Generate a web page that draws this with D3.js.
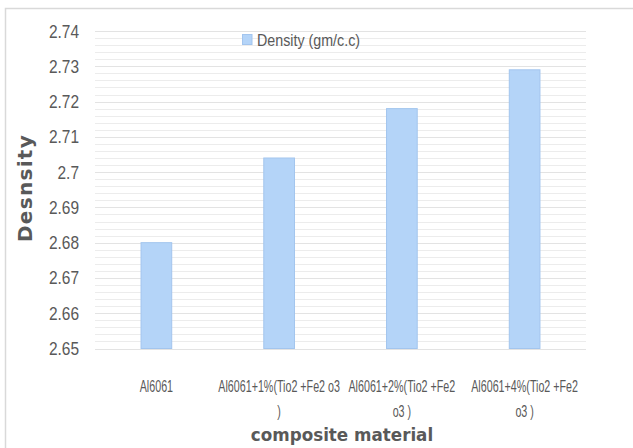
<!DOCTYPE html>
<html>
<head>
<meta charset="utf-8">
<script src="https://cdn.jsdelivr.net/npm/d3@7"></script>
<style>
  html, body { margin: 0; padding: 0; background: #fff; }
  svg { display: block; }
  text { font-family: "Liberation Sans", Arial, sans-serif; }
</style>
</head>
<body>
<svg id="chart" width="633" height="448"></svg>
<script>
// Composite materials and their measured density
const categories = [
  "Al6061",
  "Al6061+1%(Tio2 +Fe2 o3 )",
  "Al6061+2%(Tio2 +Fe2 o3 )",
  "Al6061+4%(Tio2 +Fe2 o3 )"
];
// label lines as they wrap under each bar
const categoryLines = [
  ["Al6061"],
  ["Al6061+1%(Tio2 +Fe2 o3", ")"],
  ["Al6061+2%(Tio2 +Fe2", "o3 )"],
  ["Al6061+4%(Tio2 +Fe2", "o3 )"]
];
const density = [2.680, 2.704, 2.718, 2.729];
const seriesName = "Density (gm/c.c)";
const yTicks = [2.65, 2.66, 2.67, 2.68, 2.69, 2.7, 2.71, 2.72, 2.73, 2.74];
const yTickLabels = ["2.65", "2.66", "2.67", "2.68", "2.69", "2.7", "2.71", "2.72", "2.73", "2.74"];
const yTitle = "Desnsity";
const xTitle = "composite material";

const svg = d3.select("#chart");

// outer chart frame
svg.append("rect")
  .attr("x", 5.5).attr("y", 8.5)
  .attr("width", 700).attr("height", 500)
  .attr("fill", "#fff")
  .attr("stroke", "#d9d9d9")
  .attr("stroke-width", 1.5);

const plot = { left: 95, right: 586, top: 31, bottom: 348.5 };

const x = d3.scaleBand()
  .domain(categories)
  .range([plot.left, plot.right])
  .paddingInner(0.75)
  .paddingOuter(0.375);

const y = d3.scaleLinear()
  .domain([2.65, 2.74])
  .range([plot.bottom, plot.top]);

// gridlines: major every 0.01, minor every 0.002
const minor = d3.range(0, 46).map(i => 2.65 + i * 0.002);
svg.append("g")
  .selectAll("line")
  .data(minor)
  .join("line")
  .attr("x1", plot.left).attr("x2", plot.right)
  .attr("y1", d => Math.round(y(d)) + 0.5)
  .attr("y2", d => Math.round(y(d)) + 0.5)
  .attr("stroke", "#ececec")
  .attr("stroke-width", 1);

svg.append("g")
  .selectAll("line")
  .data(yTicks)
  .join("line")
  .attr("x1", plot.left).attr("x2", plot.right)
  .attr("y1", d => Math.round(y(d)) + 0.5)
  .attr("y2", d => Math.round(y(d)) + 0.5)
  .attr("stroke", "#e3e3e3")
  .attr("stroke-width", 1);

// bars
svg.append("g")
  .selectAll("rect")
  .data(categories)
  .join("rect")
  .attr("x", d => x(d))
  .attr("width", x.bandwidth())
  .attr("y", (d, i) => y(density[i]))
  .attr("height", (d, i) => y(2.65) - y(density[i]))
  .attr("fill", "#b4d4f8")
  .attr("stroke", "#a3c5ee")
  .attr("stroke-width", 1);

// y tick labels (condensed face)
const yAxis = d3.axisLeft(y).tickValues(yTicks)
  .tickFormat((d, i) => yTickLabels[i]).tickSize(0).tickPadding(0);
const yg = svg.append("g").attr("transform", `translate(${plot.left},0)`).call(yAxis);
yg.select(".domain").remove();
yg.selectAll(".tick text")
  .attr("x", 0).attr("dy", 0)
  .attr("transform", "translate(-16,6) scale(0.86,1)")
  .attr("fill", "#595959")
  .style("font-size", "18px")
  .style("font-family", "'Liberation Sans', Arial, sans-serif");

// x category labels, wrapped
const xg = svg.append("g");
categories.forEach((c, i) => {
  const cx = x(c) + x.bandwidth() / 2;
  categoryLines[i].forEach((line, j) => {
    xg.append("text")
      .attr("transform", `translate(${cx},${392 + j * 24.5}) scale(0.67,1)`)
      .attr("text-anchor", "middle")
      .attr("fill", "#595959")
      .style("font-size", "16px")
      .text(line);
  });
});

// legend
svg.append("rect")
  .attr("x", 242.5).attr("y", 34.5)
  .attr("width", 9.5).attr("height", 10)
  .attr("fill", "#b4d4f8")
  .attr("stroke", "#a3c5ee");
svg.append("text")
  .attr("transform", "translate(257,46) scale(0.84,1)")
  .attr("fill", "#595959")
  .style("font-size", "17px")
  .text(seriesName);

// axis titles
svg.append("text")
  .attr("transform", "translate(32,188) rotate(-90)")
  .attr("text-anchor", "middle")
  .attr("fill", "#595959")
  .style("font-family", "'DejaVu Sans', sans-serif")
  .style("font-weight", "bold")
  .style("font-size", "20px")
  .style("letter-spacing", "1.3px")
  .text(yTitle);

svg.append("text")
  .attr("transform", "translate(342,441) scale(0.93,1)")
  .attr("text-anchor", "middle")
  .attr("fill", "#595959")
  .style("font-family", "'DejaVu Sans', sans-serif")
  .style("font-weight", "bold")
  .style("font-size", "18px")
  .text(xTitle);
</script>
</body>
</html>
